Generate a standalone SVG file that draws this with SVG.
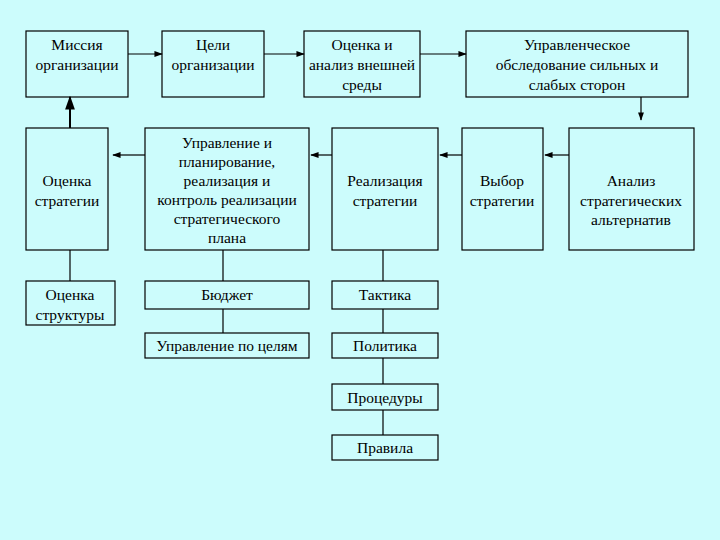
<svg xmlns="http://www.w3.org/2000/svg" width="720" height="540" viewBox="0 0 720 540">
<style>
rect.n{fill:#ccfcfc;stroke:#000;stroke-width:1.2}
text{font-family:"Liberation Serif","Times New Roman",serif;font-size:15.5px;text-anchor:middle;fill:#000}
.c line{stroke:#000;stroke-width:1.2}
</style>
<defs><marker id="a" viewBox="0 0 10 10" refX="9" refY="5" markerWidth="7" markerHeight="7" orient="auto"><path d="M0,1.5L10,5L0,8.5z" fill="#000"/></marker></defs>
<rect width="720" height="540" fill="#ccfcfc"/>
<g id="n1"><rect class="n" x="26" y="31" width="102" height="66"/><text x="77" y="50">Миссия</text><text x="77" y="70">организации</text></g>
<g id="n2"><rect class="n" x="162" y="31" width="102" height="66"/><text x="213" y="50">Цели</text><text x="213" y="70">организации</text></g>
<g id="n3"><rect class="n" x="304" y="31" width="116" height="66"/><text x="362" y="50">Оценка и</text><text x="362" y="70">анализ внешней</text><text x="362" y="90">среды</text></g>
<g id="n4"><rect class="n" x="466" y="31" width="222" height="66"/><text x="577" y="50">Управленческое</text><text x="577" y="70">обследование сильных и</text><text x="577" y="90">слабых сторон</text></g>
<g id="n5"><rect class="n" x="26" y="128" width="82" height="122"/><text x="67" y="186">Оценка</text><text x="67" y="206">стратегии</text></g>
<g id="n6"><rect class="n" x="145" y="128" width="164" height="122"/><text x="227" y="148">Управление и</text><text x="227" y="167">планирование,</text><text x="227" y="186">реализация и</text><text x="227" y="205">контроль реализации</text><text x="227" y="224">стратегического</text><text x="227" y="243">плана</text></g>
<g id="n7"><rect class="n" x="332" y="128" width="106" height="122"/><text x="385" y="186">Реализация</text><text x="385" y="206">стратегии</text></g>
<g id="n8"><rect class="n" x="462" y="128" width="81" height="122"/><text x="502" y="186">Выбор</text><text x="502" y="206">стратегии</text></g>
<g id="n9"><rect class="n" x="569" y="128" width="125" height="122"/><text x="631" y="186">Анализ</text><text x="631" y="206">стратегических</text><text x="631" y="225">альтернатив</text></g>
<g id="n10"><rect class="n" x="26" y="281" width="89" height="44"/><text x="70" y="300">Оценка</text><text x="70" y="320">структуры</text></g>
<g id="n11"><rect class="n" x="145" y="281" width="164" height="28"/><text x="227" y="300">Бюджет</text></g>
<g id="n12"><rect class="n" x="332" y="281" width="106" height="28"/><text x="385" y="300">Тактика</text></g>
<g id="n13"><rect class="n" x="145" y="333" width="164" height="25"/><text x="227" y="351">Управление по целям</text></g>
<g id="n14"><rect class="n" x="332" y="333" width="106" height="25"/><text x="385" y="351">Политика</text></g>
<g id="n15"><rect class="n" x="332" y="384" width="106" height="26"/><text x="385" y="403">Процедуры</text></g>
<g id="n16"><rect class="n" x="332" y="435" width="106" height="25"/><text x="385" y="453">Правила</text></g>
<g class="c">
<line x1="128" y1="54" x2="162" y2="54" marker-end="url(#a)"/>
<line x1="264" y1="54" x2="304" y2="54" marker-end="url(#a)"/>
<line x1="420" y1="54" x2="466" y2="54" marker-end="url(#a)"/>
<line x1="641" y1="97" x2="641" y2="120" marker-end="url(#a)"/>
<line x1="70" y1="128" x2="70" y2="97" marker-end="url(#a)" style="stroke-width:2"/>
<line x1="145" y1="155" x2="113" y2="155" marker-end="url(#a)"/>
<line x1="332" y1="155" x2="311" y2="155" marker-end="url(#a)"/>
<line x1="462" y1="155" x2="440" y2="155" marker-end="url(#a)"/>
<line x1="569" y1="155" x2="545" y2="155" marker-end="url(#a)"/>
<line x1="70" y1="250" x2="70" y2="281"/>
<line x1="223" y1="250" x2="223" y2="281"/>
<line x1="223" y1="309" x2="223" y2="333"/>
<line x1="383" y1="250" x2="383" y2="281"/>
<line x1="383" y1="309" x2="383" y2="333"/>
<line x1="383" y1="358" x2="383" y2="384"/>
<line x1="383" y1="410" x2="383" y2="435"/>
</g>
</svg>
